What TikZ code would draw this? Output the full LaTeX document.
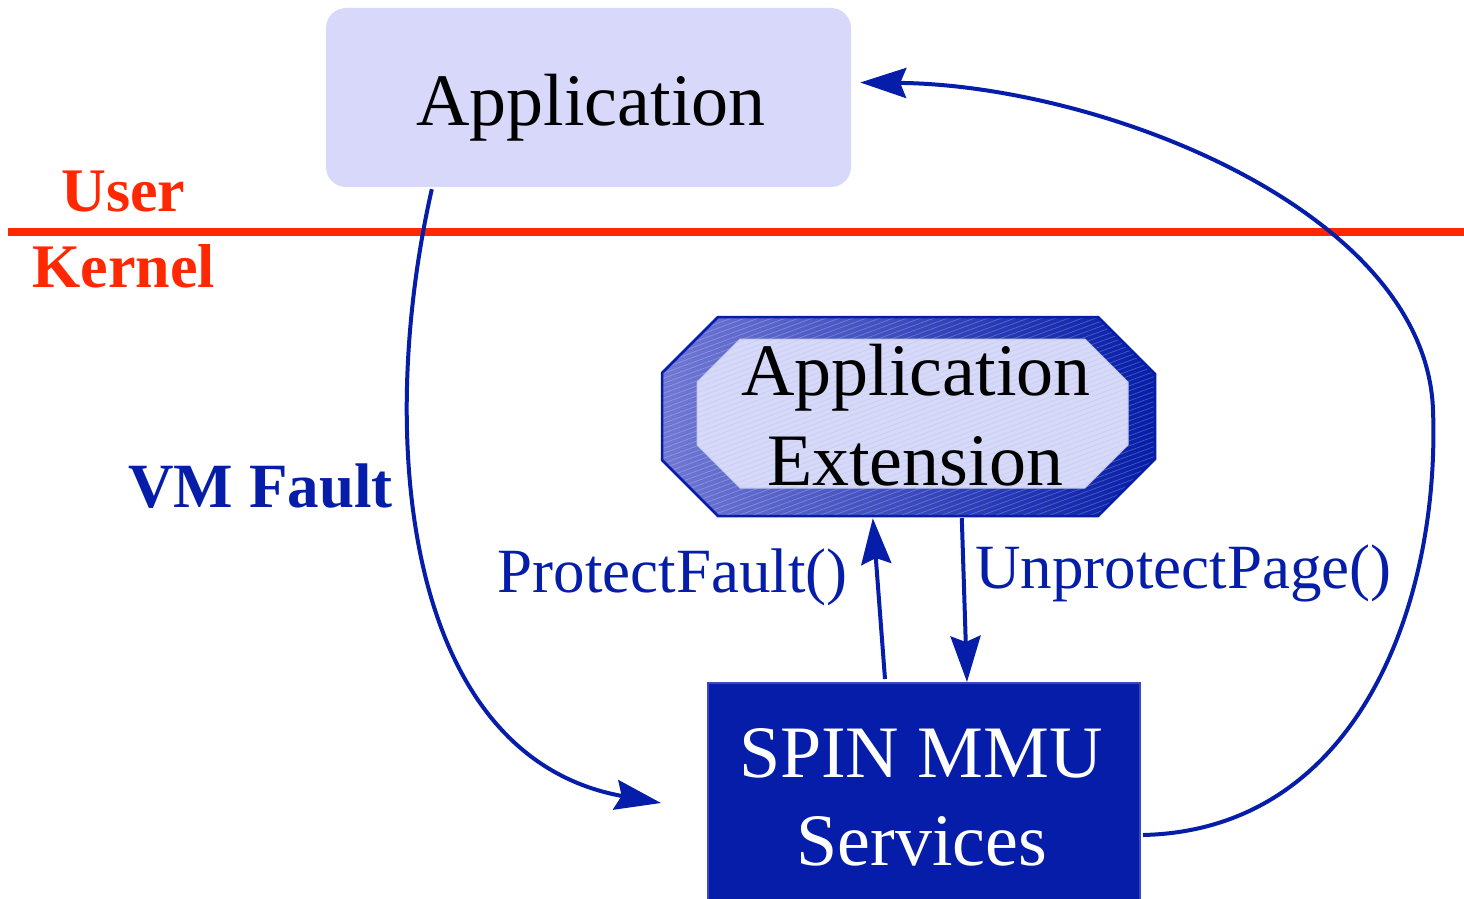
\documentclass[tikz,border=0pt]{standalone}
\usepackage{fontspec}
\setmainfont{Liberation Serif}
\usetikzlibrary{arrows.meta,calc}
\definecolor{spinblue}{RGB}{5,29,168}
\definecolor{kred}{RGB}{255,40,0}
\definecolor{applav}{RGB}{216,216,250}
\definecolor{extlight}{RGB}{214,217,248}
\definecolor{extmid}{RGB}{112,120,212}
\definecolor{spinedge}{RGB}{55,72,192}
\begin{document}
\begin{tikzpicture}[x=1pt,y=-1pt,
  big/.style={font=\fontsize{74}{74}\selectfont, inner sep=0pt, anchor=base},
  lbl/.style={font=\fontsize{63}{63}\selectfont, inner sep=0pt, anchor=base, text=spinblue},
  side/.style={font=\fontsize{62}{62}\selectfont\bfseries, inner sep=0pt, anchor=base, text=kred},
  flow/.style={draw=spinblue, line width=4pt,
    -{Stealth[length=46pt,width=30pt,inset=6pt]}},
  hatch/.style={line width=0.8pt}
]
\useasboundingbox (0,0) rectangle (1464,899);

% Shapes
\node[fill=applav, rounded corners=20pt, minimum width=525pt, minimum height=179pt,
      inner sep=0pt] (app) at (588.5,97.5) {};
\node[minimum width=493pt, minimum height=199pt, inner sep=0pt] (ext) at (908.5,416.5) {};
\node[fill=spinblue, draw=spinedge, line width=2pt, minimum width=432pt,
      minimum height=222pt, inner sep=0pt] (spin) at (924,794) {};

% User / kernel boundary
\draw[kred, line width=8pt] (8,232) -- (1464,232);
\node[side] (user) at (123.5,211) {User};
\node[side] (kernel) at (123.5,287) {Kernel};

% Extension octagon
\path[left color=extmid, right color=spinblue]
  (718,317) -- (1098,317) -- (1155,374) -- (1155,459) -- (1098,516)
  -- (718,516) -- (662,460) -- (662,373) -- cycle;
\begin{scope}
  \clip (718,317) -- (1098,317) -- (1155,374) -- (1155,459) -- (1098,516)
    -- (718,516) -- (662,460) -- (662,373) -- cycle;
  \foreach \i in {0,...,84}
    \draw[hatch, white, opacity=0.22] (640,317+\i*5) -- (1180,117+\i*5);
\end{scope}
\path[fill=extlight]
  (740,339) -- (1085,339) -- (1128,382) -- (1128,445) -- (1085,488)
  -- (740,488) -- (697,445) -- (697,382) -- cycle;
\begin{scope}
  \clip (740,339) -- (1085,339) -- (1128,382) -- (1128,445) -- (1085,488)
    -- (740,488) -- (697,445) -- (697,382) -- cycle;
  \foreach \i in {0,...,70}
    \draw[hatch, spinblue, opacity=0.05] (680,339+\i*5) -- (1150,165+\i*5);
\end{scope}
\draw[white!75!spinblue, line width=1pt]
  (740,339) -- (1085,339) -- (1128,382) -- (1128,445) -- (1085,488)
  -- (740,488) -- (697,445) -- (697,382) -- cycle;
\draw[spinblue, line width=2.5pt]
  (718,317) -- (1098,317) -- (1155,374) -- (1155,459) -- (1098,516)
  -- (718,516) -- (662,460) -- (662,373) -- cycle;

% Box texts
\node[big] (apptext) at (591,125) {Application};
\node[big] (exttop) at (916,395) {Application};
\node[big] (extbot) at (915,485) {Extension};
\node[big, text=white] (spintop) at (921,777) {SPIN MMU};
\node[big, text=white] (spinbot) at (922,865) {Services};

% Connector labels
\node[lbl] (pf) at (672.5,592) {ProtectFault()};
\node[lbl] (up) at (1183.5,588) {UnprotectPage()};
\node[lbl, font=\fontsize{63}{63}\selectfont\bfseries] (vm) at (260.5,507) {VM Fault};

% Free ends of the curved connectors
\coordinate (vmend) at ($(spin.west)+(-46,9)$);
\coordinate (retend) at ($(app.east)+(9,-15)$);

% Connectors
\draw[flow] ($(app.south west)+(106,2)$)
  .. controls (375,440) and (405,757) .. (vmend);
\draw[flow] ($(spin.east)+(2,41)$)
  .. controls (1360,830) and (1440,600) .. (1433,410)
  .. controls (1426,210) and (1100,85) .. (retend);
\draw[flow] ($(spin.north west)+(178,-3)$) -- ($(ext.south west)+(211,2)$);
\draw[flow] ($(ext.south west)+(300,2)$) -- ($(spin.north west)+(260,0)$);
\end{tikzpicture}
\end{document}
